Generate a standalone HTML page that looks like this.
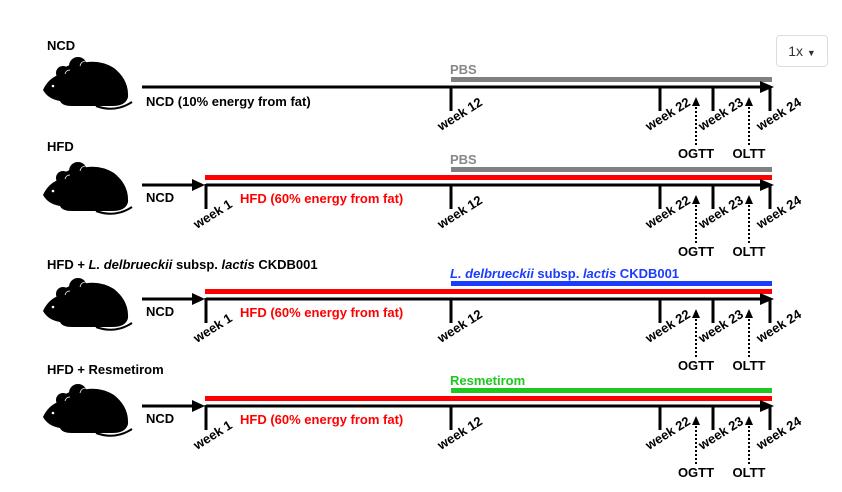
<!DOCTYPE html>
<html><head><meta charset="utf-8"><style>
html,body{margin:0;padding:0;background:#fff;width:842px;height:492px;overflow:hidden}
svg{position:absolute;left:0;top:0}
text{font-family:"Liberation Sans",Arial,sans-serif;font-weight:bold;font-size:13px}
.btn{position:absolute;left:776px;top:35px;width:52px;height:32px;border:1px solid #ddd;border-radius:4px;box-sizing:border-box;font-family:"Liberation Sans",sans-serif;font-size:14px;color:#333;text-align:center;line-height:30px}
</style></head><body>
<svg width="842" height="492" viewBox="0 0 842 492">
<defs>
<g id="mouse">
<path d="M43,90 Q48,79 58,75 Q64,64 78,64 Q98,58 114,68 Q129,80 128,97 Q126,106 112,106 L72,106 Q62,106 60,101 Q48,99 43,90 Z" fill="#000"/>
<circle cx="63" cy="73" r="7" fill="#000"/>
<circle cx="78" cy="66" r="9" fill="#000"/>
<path d="M65,74 Q66,70 70,70" fill="none" stroke="#fff" stroke-width="0.8"/>
<path d="M80,66 Q81,61 86,61" fill="none" stroke="#fff" stroke-width="0.8"/>
<path d="M96,106 Q115,113 132,102" fill="none" stroke="#000" stroke-width="2"/>
<circle cx="53" cy="86" r="1.3" fill="#fff"/>
</g>
<g id="axis">
<line x1="451" y1="-1" x2="451" y2="24" stroke="#000" stroke-width="3"/>
<line x1="660" y1="-1" x2="660" y2="24" stroke="#000" stroke-width="3"/>
<line x1="713" y1="-1" x2="713" y2="24" stroke="#000" stroke-width="3"/>
<line x1="770" y1="-1" x2="770" y2="24" stroke="#000" stroke-width="3"/>
<polygon points="760,-6 774,0 760,6" fill="#000"/>
<text transform="translate(441,44) rotate(-32)" font-size="9">week 12</text>
<text transform="translate(649,44) rotate(-32)" font-size="9">week 22</text>
<text transform="translate(702,44) rotate(-32)" font-size="9">week 23</text>
<text transform="translate(760,44) rotate(-32)" font-size="9">week 24</text>
<line x1="696" y1="58" x2="696" y2="18" stroke="#000" stroke-width="2" stroke-dasharray="2,2"/>
<polygon points="692,19 696,10 700,19" fill="#000"/>
<line x1="749" y1="58" x2="749" y2="18" stroke="#000" stroke-width="2" stroke-dasharray="2,2"/>
<polygon points="745,19 749,10 753,19" fill="#000"/>
<text x="696" y="71" text-anchor="middle">OGTT</text>
<text x="749" y="71" text-anchor="middle">OLTT</text>
</g>
<g id="hfd">
<line x1="142" y1="0" x2="195" y2="0" stroke="#000" stroke-width="3"/>
<polygon points="192,-6 205,0 192,6" fill="#000"/>
<line x1="206" y1="0" x2="770" y2="0" stroke="#000" stroke-width="3"/>
<line x1="206" y1="-1" x2="206" y2="24" stroke="#000" stroke-width="3"/>
<rect x="205" y="-10" width="567" height="5" fill="#f00"/>
<text x="146" y="17">NCD</text>
<text x="240" y="18" fill="#f00">HFD (60% energy from fat)</text>
<text transform="translate(197,44) rotate(-32)" font-size="9">week 1</text>
<use href="#axis"/>
</g>
</defs>

<text x="47" y="50">NCD</text>
<use href="#mouse"/>
<g transform="translate(0,87)">
<line x1="142" y1="0" x2="770" y2="0" stroke="#000" stroke-width="3"/>
<rect x="451" y="-10" width="321" height="5" fill="#808080"/>
<text x="450" y="-13" fill="#888">PBS</text>
<text x="146" y="19">NCD (10% energy from fat)</text>
<use href="#axis"/>
</g>

<text x="47" y="151">HFD</text>
<use href="#mouse" transform="translate(0,105)"/>
<g transform="translate(0,185)">
<use href="#hfd"/>
<rect x="451" y="-18" width="321" height="5" fill="#808080"/>
<text x="450" y="-21" fill="#888">PBS</text>
</g>

<text x="47" y="269">HFD + <tspan font-style="italic">L. delbrueckii</tspan> subsp. <tspan font-style="italic">lactis</tspan> CKDB001</text>
<use href="#mouse" transform="translate(0,221)"/>
<g transform="translate(0,299)">
<use href="#hfd"/>
<rect x="451" y="-18" width="321" height="5" fill="#1a3cff"/>
<text x="450" y="-21" fill="#1a3cff"><tspan font-style="italic">L. delbrueckii</tspan> subsp. <tspan font-style="italic">lactis</tspan> CKDB001</text>
</g>

<text x="47" y="374">HFD + Resmetirom</text>
<use href="#mouse" transform="translate(0,327)"/>
<g transform="translate(0,406)">
<use href="#hfd"/>
<rect x="451" y="-18" width="321" height="5" fill="#1ec81e"/>
<text x="450" y="-21" fill="#1ec81e">Resmetirom</text>
</g>
</svg>
<div class="btn">1x <span style="font-size:9px">▼</span></div>
</body></html>
